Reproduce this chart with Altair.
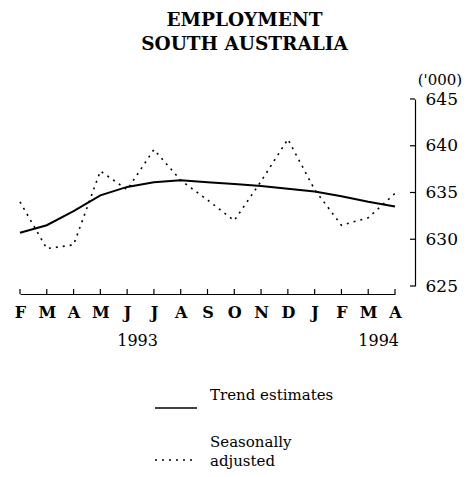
import altair as alt
import pandas as pd

months = ["F", "M", "A", "M", "J", "J", "A", "S", "O", "N", "D", "J", "F", "M", "A"]
trend = [630.7, 631.5, 633.0, 634.7, 635.6, 636.1, 636.3, 636.1, 635.9, 635.7,
         635.4, 635.1, 634.6, 634.0, 633.5]
seas_adj = [634.0, 629.0, 629.4, 637.3, 635.3, 639.6, 636.3, 634.2, 632.0, 636.2,
            640.7, 635.3, 631.5, 632.3, 634.9]
y_ticks = [625, 630, 635, 640, 645]
years = ["1993", "1994"]
year_month_index = [5, 14]

W, H = 375, 187
FONT = "DejaVu Serif"

idx = list(range(len(months)))
df_trend = pd.DataFrame({"t": idx, "v": trend})
df_seas = pd.DataFrame({"t": idx, "v": seas_adj})
df_yt = pd.DataFrame({"v": y_ticks})
df_xt = pd.DataFrame({"t": idx})
df_years = pd.DataFrame({"t": year_month_index, "label": years})

label_expr = "[" + ",".join("'" + m + "'" for m in months) + "][datum.value]"

xscale = alt.Scale(domain=[0, len(months) - 1], nice=False, zero=False)
yscale = alt.Scale(domain=[625, 645], nice=False, zero=False)

x_axis = alt.Axis(values=idx, labelExpr=label_expr, orient="bottom", offset=8,
                  ticks=False, domain=True, domainColor="black", domainWidth=1.2,
                  labelFont=FONT, labelFontSize=16, labelFontWeight="bold",
                  labelColor="black", labelPadding=10, grid=False, title=None,
                  labelFlush=False, labelOverlap=False, labelBound=False)
y_axis = alt.Axis(values=y_ticks, orient="right", offset=20, ticks=False,
                  domain=True, domainColor="black", domainWidth=1.2,
                  labelFont=FONT, labelFontSize=17, labelColor="black",
                  labelPadding=10, grid=False, title=None, labelOverlap=False)

X = alt.X("t:Q", scale=xscale, axis=x_axis)
Y = alt.Y("v:Q", scale=yscale, axis=y_axis)

trend_line = alt.Chart(df_trend).mark_line(color="black", strokeWidth=2).encode(
    x=X, y=Y,
)
seas_line = alt.Chart(df_seas).mark_line(color="black", strokeWidth=1.6,
                                          strokeDash=[2, 5]).encode(
    x=X, y=Y,
)

y_tick_marks = alt.Chart(df_yt).mark_rule(color="black", strokeWidth=1.2).encode(
    y=Y,
    x=alt.value(W + 20 - 5), x2=alt.value(W + 20),
)
x_tick_marks = alt.Chart(df_xt).mark_rule(color="black", strokeWidth=1.2).encode(
    x=X,
    y=alt.value(H + 8 - 5), y2=alt.value(H + 8),
)
year_text = alt.Chart(df_years).mark_text(font=FONT, fontSize=16, color="black",
                                            align="right", baseline="middle",
                                            dx=4).encode(
    x=X,
    y=alt.value(H + 55),
    text="label:N",
)

units = alt.Chart(pd.DataFrame({"s": ["('000)"]})).mark_text(
    font=FONT, fontSize=15, color="black", align="center", baseline="middle"
).encode(x=alt.value(W + 45), y=alt.value(-19), text="s:N")

leg_solid = alt.Chart(pd.DataFrame({"a": [0]})).mark_rule(
    color="black", strokeWidth=1.5).encode(
    x=alt.value(135), x2=alt.value(177), y=alt.value(H + 122))
leg_dot = alt.Chart(pd.DataFrame({"a": [0]})).mark_rule(
    color="black", strokeWidth=1.5, strokeDash=[2, 5]).encode(
    x=alt.value(135), x2=alt.value(177), y=alt.value(H + 174))
leg_text = alt.Chart(pd.DataFrame({
    "s": ["Trend estimates", "Seasonally", "adjusted"],
    "yy": [H + 109, H + 156, H + 175],
})).mark_text(font=FONT, fontSize=15, color="black", align="left",
              baseline="middle").encode(
    x=alt.value(190), y=alt.Y("yy:Q", scale=None), text="s:N")

chart = alt.layer(
    seas_line, trend_line, y_tick_marks, x_tick_marks, year_text, units,
    leg_solid, leg_dot, leg_text,
).properties(
    width=W, height=H,
    title=alt.TitleParams(["EMPLOYMENT", "SOUTH AUSTRALIA"], anchor="middle",
                          dx=37, font=FONT, fontSize=18.5, fontWeight="bold",
                          color="black", lineHeight=24, offset=20),
    autosize=alt.AutoSizeParams(type="none"),
    padding={"left": 12, "top": 91, "right": 69, "bottom": 183},
).configure(background="white").configure_view(stroke=None, strokeWidth=0)

chart.save("out.html", embed_options={"renderer": "svg", "actions": False})
